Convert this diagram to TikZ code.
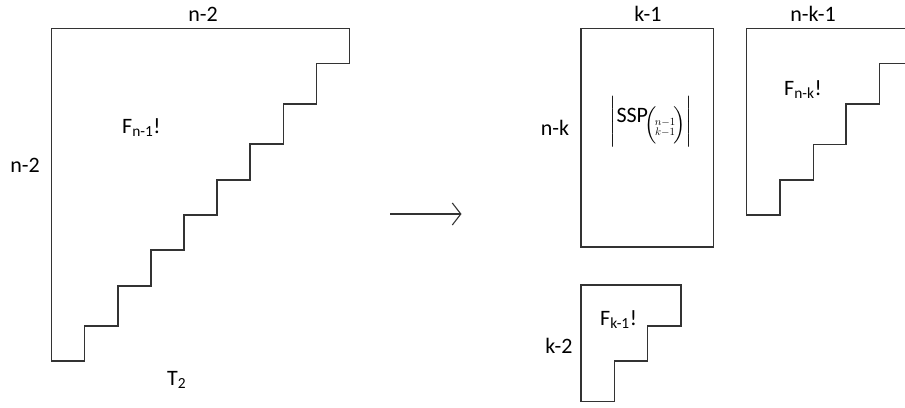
\documentclass[tikz,border=0pt]{standalone}
\usepackage{amsmath}
\usepackage{fontspec}
\setmainfont{Carlito}
\usetikzlibrary{arrows.meta}

\begin{document}
\begin{tikzpicture}[x=1pt, y=-1pt]
\tikzset{board/.style={draw=black!80, line width=1.1pt, line join=miter}}
\tikzset{lbl/.style={font=\fontsize{22}{26}\selectfont, inner sep=0pt, anchor=base}}
\tikzset{flbl/.style={lbl, anchor=base west}}
    \useasboundingbox (0,0) rectangle (905,407);

    % left: the whole staircase
    \draw[board] (51.5,28.5) -- (349.5,28.5) -- (349.5,63.5) -- (316.5,63.5)
        -- (316.5,104) -- (283.5,104) -- (283.5,144) -- (250,144)
        -- (250,180) -- (217,180) -- (217,215) -- (184,215)
        -- (184,250) -- (151,250) -- (151,286) -- (118,286)
        -- (118,326) -- (84.5,326) -- (84.5,361) -- (51.5,361) -- cycle;

    \node[lbl] (Ntop) at (203,21) {n-2};
    \node[lbl] (Nleft) at (25,172) {n-2};
    \node[flbl] (Fn) at (122,133) {F\textsubscript{n-1}!};
    \node[flbl] (T2) at (167,385) {T\textsubscript{2}};

    % arrow
    \coordinate (Ai) at (390,214);
    \coordinate (Ao) at (461.5,214);
    \draw[black!80, line width=1.1pt, -{Straight Barb[length=8.5pt,width=22pt]}] (Ai) -- (Ao);

% % % % % % % % % % % % % % % % % % %
    % right: the block of SSP
    \draw[board] (581,28.3) rectangle (713.7,247);
    \node[lbl] (Kone) at (648,21) {k-1};
    \node[lbl] (NK) at (555,135) {n-k};
    \node[lbl] (SSP) at (651,122)
        {$\raisebox{-5pt}{$\bigg|$}\text{SSP}\!\raisebox{-9pt}{$\Bigl(\!\genfrac{}{}{0pt}{3}{n-1}{k-1}\!\Bigr)$}\raisebox{-5pt}{$\bigg|$}$};

    % right: the cut staircase
    \draw[board] (905,28.3) -- (746.7,28.3) -- (746.7,215) -- (780,215)
        -- (780,180) -- (813.3,180) -- (813.3,144.3) -- (846,144.3)
        -- (846,104) -- (879.3,104) -- (879.3,63.3) -- (905,63.3);
    \node[lbl] (NKone) at (813,21) {n-k-1};
    \node[flbl] (Fnk) at (784,95) {F\textsubscript{n-k}!};

    % right: the small staircase
    \draw[board] (581,285) -- (681,285) -- (681,326) -- (647.7,326)
        -- (647.7,361) -- (614.3,361) -- (614.3,401.7) -- (581,401.7) -- cycle;
    \node[lbl] (Ktwo) at (559,353) {k-2};
    \node[flbl] (Fk) at (600,325) {F\textsubscript{k-1}!};

\end{tikzpicture}
\end{document}
